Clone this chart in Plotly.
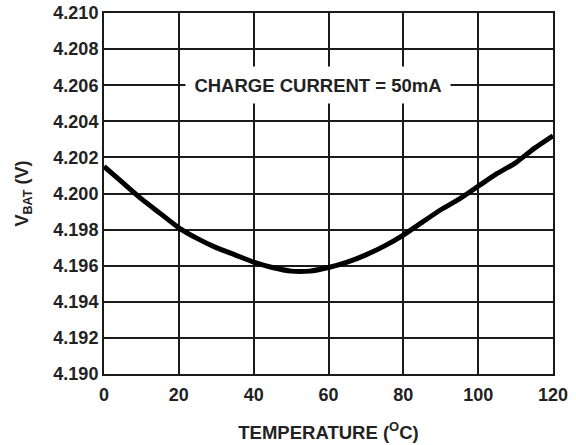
import plotly.graph_objects as go

# Battery float voltage vs temperature at 50 mA charge current
temperature_c = [0, 5, 10, 15, 20, 25, 30, 35, 40, 45, 50, 55, 60,
                 65, 70, 75, 80, 85, 90, 95, 100, 105, 110, 115, 120]
vbat_v = [4.2015, 4.2006, 4.1997, 4.1989, 4.1981, 4.1975, 4.1970, 4.1966,
          4.1962, 4.1959, 4.1957, 4.1957, 4.1959, 4.1962, 4.1966, 4.1971,
          4.1977, 4.1984, 4.1991, 4.1997, 4.2004, 4.2011, 4.2017, 4.2025,
          4.2032]

x_ticks = [0, 20, 40, 60, 80, 100, 120]
y_ticks = [4.190, 4.192, 4.194, 4.196, 4.198, 4.200, 4.202, 4.204, 4.206,
           4.208, 4.210]
y_tick_text = [f"{v:.3f}" for v in y_ticks]

ink = "#1a1a1a"
font_family = "Liberation Sans, Arial, sans-serif"

fig = go.Figure()
fig.add_trace(go.Scatter(
    x=temperature_c, y=vbat_v, mode="lines",
    line=dict(color="#000000", width=5, shape="spline", smoothing=0.6),
    showlegend=False, hoverinfo="skip",
))

fig.add_annotation(
    x=57.2, y=4.206, xref="x", yref="y",
    text="CHARGE CURRENT = 50mA", showarrow=False,
    font=dict(family=font_family, size=18.5, color="#222222", weight="bold"),
    bgcolor="white", width=262, height=34,
)

fig.update_layout(
    width=576, height=445,
    margin=dict(l=104, r=23, t=13, b=71, autoexpand=False),
    paper_bgcolor="white", plot_bgcolor="white",
    font=dict(family=font_family, size=18, color="#222222", weight="bold"),
)

fig.update_xaxes(
    range=[0, 120], tickvals=x_ticks, ticks="", automargin=False,
    showgrid=True, gridcolor=ink, gridwidth=2,
    showline=True, linecolor=ink, linewidth=2, mirror=True,
    zeroline=False,
    tickfont=dict(size=18), ticklabelstandoff=3,
    title=dict(text="TEMPERATURE (<sup>O</sup>C)", font=dict(size=18.5), standoff=22),
)
fig.update_yaxes(
    range=[4.190, 4.210], tickvals=y_ticks, ticktext=y_tick_text, ticks="",
    automargin=False,
    showgrid=True, gridcolor=ink, gridwidth=2,
    showline=True, linecolor=ink, linewidth=2, mirror=True,
    zeroline=False,
    tickfont=dict(size=18),
    title=dict(text="V<sub>BAT</sub> (V)", font=dict(size=18), standoff=20),
)

fig.write_html("out.html")
